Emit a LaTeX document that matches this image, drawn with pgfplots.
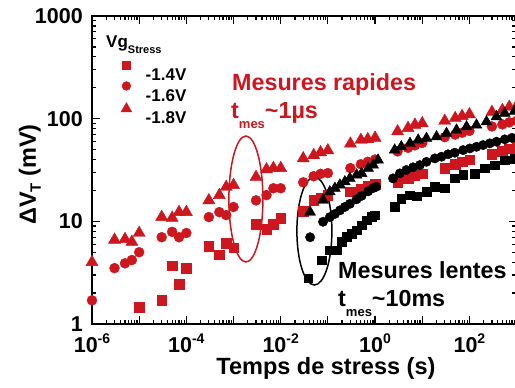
\documentclass[border=0pt]{standalone}
\usepackage{fontspec}
\setmainfont{Liberation Sans}
\usepackage{pgfplots}
\pgfplotsset{compat=1.18}
\definecolor{mred}{RGB}{205,22,30}
% decade tick label: 10 with a raised exponent in the text font
\newcommand{\dec}[1]{10\raisebox{9pt}{\fontsize{14}{14}\selectfont\bfseries #1}}
\newcommand{\sub}[1]{\raisebox{-10pt}{\fontsize{13}{13}\selectfont\bfseries #1}}

% fast measurements (t_mes ~ 1 us), one series per stress voltage
\pgfplotstableread{
t V
5e-6 0.97
1e-5 1.46
3e-5 1.7
5e-5 3.7
7e-5 2.45
1e-4 3.5
3e-4 5.75
5e-4 4.7
7e-4 6.1
1e-3 5.5
3e-3 9.4
5e-3 8.4
7e-3 9.4
1e-2 10.7
3e-2 12.5
5e-2 16
7e-2 17
1e-1 18
3e-1 19.5
5e-1 20.5
7e-1 22
1 23
3 24
5 26
7 28
10 29
30 33
50 36
70 38
100 40
300 45
500 48
700 51
1000 53
}\fastA
\pgfplotstableread{
t V
1e-6 1.7
3e-6 3.5
5e-6 3.9
7e-6 4.2
1e-5 5.0
3e-5 7.0
5e-5 7.9
7e-5 7.0
1e-4 7.7
3e-4 11
5e-4 12.3
7e-4 11.5
1e-3 13.8
3e-3 16
5e-3 18
7e-3 21
1e-2 21
3e-2 24
5e-2 27.5
7e-2 29
1e-1 29.5
3e-1 33
5e-1 36
7e-1 38
1 40
3 48
5 52
7 55
10 58
30 66
50 70
70 73
100 76
300 84
500 88
700 92
1000 95
}\fastB
\pgfplotstableread{
t V
1e-6 4.0
3e-6 6.6
5e-6 6.7
7e-6 6.3
1e-5 7.7
3e-5 11.0
5e-5 10.8
7e-5 12.3
1e-4 12.3
3e-4 16.0
5e-4 18.0
7e-4 21.6
1e-3 22.5
3e-3 27
5e-3 32
7e-3 33
1e-2 33
3e-2 41
5e-2 44
7e-2 47
1e-1 49
3e-1 57
5e-1 62
7e-1 63
1 65
3 75
5 81
7 87
10 90
30 95
50 101
70 106
100 110
300 116
500 121
700 130
1000 133
}\fastC

% slow measurements (t_mes ~ 10 ms)
\pgfplotstableread{
t V
0.038 2.8
0.0735 4.2
0.11 5.25
0.153 5.25
0.195 6.3
0.249 7.1
0.318 7.6
0.406 8.2
0.518 9.2
0.66 10.3
0.843 11.1
0.99 11.5
2.6 13.9
3.6 16.7
5.5 18
7.6 17.5
12.3 19.4
18.5 21.7
29.9 21
48.8 26.2
73.6 28.3
129 29.3
210 32.8
343 35.3
562 39.5
900 41
}\slowA
\pgfplotstableread{
t V
0.042 7.0
0.079 9.9
0.11 11.0
0.141 11.8
0.18 12.8
0.229 13.8
0.292 14.8
0.406 16.4
0.518 17.7
0.714 19.6
0.912 21.1
1.05 21.7
2.4 26.2
3.35 29.3
4.6 31.6
6.4 33.6
8.9 35.3
12.3 38
18.5 41
25.6 42.6
35.4 45
49 46.6
73.6 49.4
102 51.3
141 53.2
195 55.3
270 57.5
375 59.6
562 62.9
800 65
}\slowB
\pgfplotstableread{
t V
0.042 12.3
0.079 16.1
0.11 19.4
0.141 21
0.18 22.6
0.229 24.3
0.292 26.2
0.406 28.3
0.518 29.3
0.714 32.8
0.912 35.3
1.16 39.5
2.6 49.5
3.6 53.2
5.5 57.5
8.2 61.9
12.3 64.3
20.1 66.7
32.7 71.9
53.3 77.4
86.9 83.4
141 86.7
230 93.4
375 104.5
562 112.6
900 118
}\slowC

\begin{document}
\begin{tikzpicture}
\useasboundingbox (-92pt,-64pt) rectangle (423pt,324pt);
\begin{axis}[
  at={(0pt,0pt)}, anchor=south west,
  scale only axis, width=424.6pt, height=308pt,
  xmode=log, ymode=log,
  xmin=1e-6, xmax=1e3, ymin=1, ymax=1000,
  axis line style={line width=1.6pt},
  every tick/.style={black, line width=1.2pt},
  major tick length=8pt, minor tick length=4.5pt,
  xtick={1e-6,1e-5,1e-4,1e-3,1e-2,1e-1,1,1e1,1e2,1e3},
  xticklabels={\dec{-6},,\dec{-4},,\dec{-2},,\dec{0},,\dec{2},},
  ytick={1,10,100,1000},
  yticklabels={1,10,100,1000},
  tick label style={font=\fontsize{21.5}{24}\selectfont\bfseries},
  xticklabel style={anchor=base, inner sep=0pt, yshift=-29pt},
  yticklabel style={anchor=east, inner sep=0pt, xshift=-9pt},
  xlabel={Temps de stress (s)},
  ylabel={ΔV\raisebox{-5pt}{\fontsize{15}{15}\selectfont\bfseries T} (mV)},
  label style={font=\fontsize{23.5}{26}\selectfont\bfseries, inner sep=0pt},
  xlabel style={at={(axis description cs:0.551,-0.165)}, anchor=base, text height=17pt},
  ylabel style={at={(axis description cs:-0.132,0.485)}, anchor=base},
  legend style={at={(axis description cs:0.068,0.855)}, anchor=north west,
    draw=none, fill=none, inner sep=0pt,
    font=\fontsize{17}{17}\selectfont\bfseries,
    row sep=1.5pt, column sep=14pt,
    nodes={inner sep=0pt, text height=12.2pt, text depth=0pt, minimum height=0pt}},
  legend cell align=left,
  legend image code/.code={\draw[mark repeat=2,mark phase=2] plot coordinates {(0pt,9pt)(10pt,9pt)(20pt,9pt)};},
  legend image post style={mark options={scale=0.88}},
]
\addplot[only marks, mark=square*, mark size=4.7pt, color=mred] table[x=t, y=V] {\fastA};
\addlegendentry{-1.4V}
\addplot[only marks, mark=*, mark size=5pt, color=mred] table[x=t, y=V] {\fastB};
\addlegendentry{-1.6V}
\addplot[only marks, mark=triangle*, mark size=7pt, color=mred] table[x=t, y=V] {\fastC};
\addlegendentry{-1.8V}

\addplot[forget plot, only marks, mark=square*, mark size=4.3pt, color=black] table[x=t, y=V] {\slowA};
\addplot[forget plot, only marks, mark=*, mark size=4.7pt, color=black] table[x=t, y=V] {\slowB};
\addplot[forget plot, only marks, mark=triangle*, mark size=6.3pt, color=black] table[x=t, y=V] {\slowC};

\draw[mred, line width=1.5pt] (axis cs:1.83e-3,16.5) ellipse [x radius=17pt, y radius=63pt];
\draw[black, line width=1.5pt] (axis cs:0.0518,8.05) ellipse [x radius=17.5pt, y radius=54pt];

\node[anchor=base west, inner sep=0pt, font=\fontsize{17}{17}\selectfont\bfseries]
  at (axis description cs:0.033,0.899) {Vg\raisebox{-6pt}{\fontsize{11}{11}\selectfont\bfseries Stress}};
\node[anchor=base west, inner sep=0pt, text=mred, font=\fontsize{23.3}{26}\selectfont\bfseries]
  at (axis description cs:0.3297,0.7597) {Mesures rapides};
\node[anchor=base west, inner sep=0pt, text=mred, font=\fontsize{23.3}{26}\selectfont\bfseries]
  at (axis description cs:0.3274,0.6688) {t\sub{mes}\textasciitilde 1µs};
\node[anchor=base west, inner sep=0pt, font=\fontsize{23.3}{26}\selectfont\bfseries]
  at (axis description cs:0.5794,0.1461) {Mesures lentes};
\node[anchor=base west, inner sep=0pt, font=\fontsize{23.3}{26}\selectfont\bfseries]
  at (axis description cs:0.5794,0.0552) {t\sub{mes}\textasciitilde 10ms};
\end{axis}
\end{tikzpicture}
\end{document}
